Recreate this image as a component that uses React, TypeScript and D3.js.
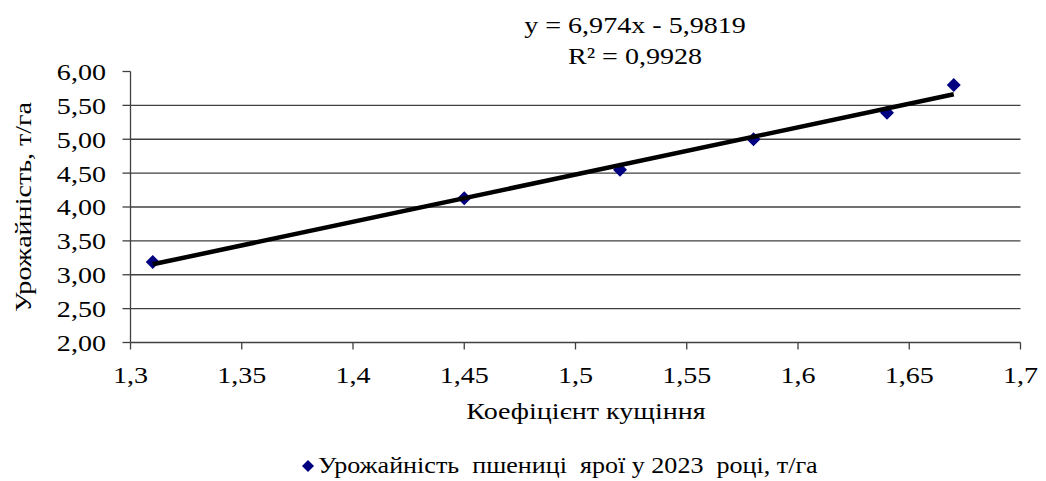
import React from "react";
import * as d3 from "d3";

const xValues = [1.31, 1.45, 1.52, 1.58, 1.64, 1.67];
const yValues = [3.19, 4.13, 4.55, 5.0, 5.39, 5.8];
const xTicks = [1.3, 1.35, 1.4, 1.45, 1.5, 1.55, 1.6, 1.65, 1.7];
const yTicks = [2, 2.5, 3, 3.5, 4, 4.5, 5, 5.5, 6];
const slope = 6.974;
const intercept = -5.9819;
const equationText = "y = 6,974x - 5,9819";
const r2Text = "R² = 0,9928";
const xTitle = "Коефіцієнт кущіння";
const yTitle = "Урожайність, т/га";
const legendText = "Урожайність  пшениці  ярої у 2023  році, т/га";

const W = 1046;
const H = 481;
const FONT = "Liberation Serif, DejaVu Serif, serif";
const SX = 1.17;

function T(props: {
  x: number;
  y: number;
  rot?: number;
  anchor?: "start" | "middle" | "end";
  size?: number;
  dy?: string;
  children: React.ReactNode;
}) {
  const { x, y, rot = 0, anchor = "start", size = 24, dy, children } = props;
  return (
    <text
      transform={`translate(${x},${y}) rotate(${rot}) scale(${SX},1)`}
      textAnchor={anchor}
      fontSize={size}
      dy={dy}
      style={{ fontFamily: FONT, whiteSpace: "pre" }}
      fill="#000"
    >
      {children}
    </text>
  );
}

export default function App() {
  const x = d3.scaleLinear().domain([1.3, 1.7]).range([130.5, 1020.5]);
  const y = d3.scaleLinear().domain([2, 6]).range([342.5, 71.5]);
  const fmtY = (v: number) => v.toFixed(2).replace(".", ",");
  const fmtX = (v: number) => String(+v.toFixed(2)).replace(".", ",");
  const x0 = d3.min(xValues)!;
  const x1 = d3.max(xValues)!;
  const trend = d3.line<number>().x((d) => x(d)).y((d) => y(slope * d + intercept));
  const diamond = (cx: number, cy: number, r: number) =>
    `M${cx},${cy - r}L${cx + r},${cy}L${cx},${cy + r}L${cx - r},${cy}Z`;

  return (
    <svg
      width={W}
      height={H}
      style={{ position: "absolute", left: 0, top: 0, background: "#fff" }}
    >
      {yTicks.map((t) => (
        <g key={"y" + t}>
          {t !== 6 && t !== 2 && (
            <line x1={x(1.3)} x2={x(1.7)} y1={y(t)} y2={y(t)} stroke="#404040" strokeWidth={1.3} />
          )}
          <line x1={x(1.3) - 8} x2={x(1.3)} y1={y(t)} y2={y(t)} stroke="#404040" strokeWidth={1.3} />
          <T x={106} y={y(t)} dy="0.35em" anchor="end">
            {fmtY(t)}
          </T>
        </g>
      ))}
      <line x1={x(1.3)} x2={x(1.3)} y1={y(6)} y2={y(2)} stroke="#404040" strokeWidth={1.3} />
      <line x1={x(1.3)} x2={x(1.7)} y1={y(2)} y2={y(2)} stroke="#404040" strokeWidth={1.3} />
      {xTicks.map((t) => (
        <g key={"x" + t}>
          <line x1={x(t)} x2={x(t)} y1={y(2)} y2={y(2) + 7} stroke="#404040" strokeWidth={1.3} />
          <T x={x(t)} y={383} anchor="middle">
            {fmtX(t)}
          </T>
        </g>
      ))}
      {xValues.map((v, i) => (
        <path key={"p" + i} d={diamond(x(v), y(yValues[i]), 7)} fill="#000080" />
      ))}
      <path d={trend([x0, x1])!} stroke="#000" strokeWidth={4.5} fill="none" />
      <T x={635} y={33} anchor="middle">{equationText}</T>
      <T x={635} y={64} anchor="middle">{r2Text}</T>
      <T x={586} y={419} anchor="middle">{xTitle}</T>
      <T x={31} y={(y(6) + y(2)) / 2} rot={-90} anchor="middle">{yTitle}</T>
      <path d={diamond(308, 466, 6)} fill="#000080" />
      <T x={318} y={473} size={22.3}>{legendText}</T>
    </svg>
  );
}
